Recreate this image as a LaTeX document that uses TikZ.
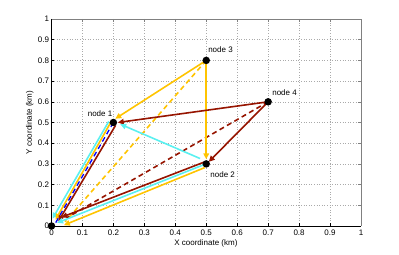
\documentclass[tikz,border=0pt]{standalone}
\usepackage{fontspec}
\setmainfont{Liberation Sans}
\usetikzlibrary{arrows.meta}
\definecolor{gold}{RGB}{255,196,0}
\definecolor{dred}{RGB}{150,20,0}
\definecolor{cyn}{RGB}{90,240,240}
\definecolor{gridgray}{RGB}{170,170,170}
\begin{document}
\begin{tikzpicture}[x=309.5pt,y=207pt,
  font=\fontsize{8}{9.6}\selectfont,
  link/.style={line width=1.6pt,-{Triangle[length=6pt,width=5.5pt]}},
  dlink/.style={line width=1.6pt,dash pattern=on 5pt off 3.5pt},
  dot/.style={circle,fill=black,inner sep=0pt,minimum size=7.5pt},
  lbl/.style={inner sep=1pt},
  ticklab/.style={inner sep=1pt}]
\useasboundingbox (-0.1664,-0.1401) rectangle (1.1228,1.0918);
% grid
\foreach \i in {1,...,9} {
  \draw[gridgray,line width=0.5pt,dash pattern=on 0.6pt off 2pt] (\i/10,0) -- (\i/10,1);
  \draw[gridgray,line width=0.5pt,dash pattern=on 0.6pt off 2pt] (0,\i/10) -- (1,\i/10);
}
% ticks
\foreach \i in {1,...,9} {
  \draw[line width=0.4pt] (\i/10,0) -- ++(0,3pt);
  \draw[line width=0.4pt,gray] (\i/10,1) -- ++(0,-3pt);
  \draw[line width=0.4pt] (0,\i/10) -- ++(3pt,0);
  \draw[line width=0.4pt,gray] (1,\i/10) -- ++(-3pt,0);
}
\draw[gray,line width=0.6pt] (0,1) -- (1,1) -- (1,0);
\draw[black,line width=0.8pt] (0,1) -- (0,0) -- (1,0);
% tick labels
\foreach \v/\t in {0/0,0.1/0.1,0.2/0.2,0.3/0.3,0.4/0.4,0.5/0.5,0.6/0.6,0.7/0.7,0.8/0.8,0.9/0.9,1/1} {
  \node[ticklab,anchor=north] (xt\t) at (\v,-0.012) {\t};
  \node[ticklab,anchor=east] (yt\t) at (-0.004,\v) {\t};
}
\node (xlab) at (0.499,-0.082) {X coordinate (km)};
\node[rotate=90] (ylab) at (-0.07,0.5) {Y coordinate (km)};
% node positions
\coordinate (n0) at (0,0);
\coordinate (n1) at (0.2,0.5);
\coordinate (n2) at (0.5,0.3);
\coordinate (n3) at (0.5,0.8);
\coordinate (n4) at (0.7,0.6);
% endpoint coordinates
\coordinate (c1a) at (0.185,0.505); \coordinate (c0a) at (0.003,0.035);
\coordinate (y1a) at (0.195,0.51);  \coordinate (y0a) at (0.013,0.03);
\coordinate (b1a) at (0.2,0.5);     \coordinate (b0a) at (0.012,0.012);
\coordinate (r1a) at (0.207,0.486); \coordinate (r0a) at (0.022,0.022);
\coordinate (r2a) at (0.492,0.308); \coordinate (r0b) at (0.032,0.042);
\coordinate (c2a) at (0.492,0.296); \coordinate (c0b) at (0.018,0.015);
\coordinate (y2a) at (0.495,0.282); \coordinate (y0b) at (0.04,0.004);
\coordinate (y0c) at (0.044,0.02);
\coordinate (r0c) at (0.05,0.04);
\coordinate (y1b) at (0.206,0.518);
\coordinate (y2b) at (0.5,0.322);
\coordinate (r1b) at (0.214,0.5);
\coordinate (r2b) at (0.508,0.31);
\coordinate (c2c) at (0.48,0.326); \coordinate (c1c) at (0.222,0.492);
% dashed direct links
\draw[dlink,gold] (n3) -- (y0c);
\draw[dlink,dred] (n4) -- (r0c);
% links to origin from node 1
\draw[link,cyn] (c1a) -- (c0a);
\draw[link,gold] (y1a) -- (y0a);
\draw[dlink,blue,line width=1.3pt] (b1a) -- (b0a);
\draw[link,dred] (r1a) -- (r0a);
% links to origin from node 2
\draw[link,gold] (y2a) -- (y0b);
\draw[link,cyn] (c2a) -- (c0b);
\draw[link,dred] (r2a) -- (r0b);
% other links
\draw[link,gold] (n3) -- (y1b);
\draw[link,gold] (n3) -- (y2b);
\draw[link,dred] (n4) -- (r1b);
\draw[link,dred] (n4) -- (r2b);
\draw[link,cyn] (c2c) -- (c1c);
% dots
\node[dot] (d0) at (n0) {};
\node[dot] (d1) at (n1) {};
\node[dot] (d2) at (n2) {};
\node[dot] (d3) at (n3) {};
\node[dot] (d4) at (n4) {};
% labels
\node[lbl] (l1) at (0.157,0.541) {node 1};
\node[lbl] (l2) at (0.553,0.246) {node 2};
\node[lbl] (l3) at (0.546,0.85) {node 3};
\node[lbl] (l4) at (0.753,0.643) {node 4};
\end{tikzpicture}
\end{document}
